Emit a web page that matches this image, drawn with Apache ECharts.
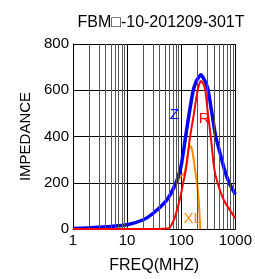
<!DOCTYPE html>
<html><head><meta charset="utf-8">
<script src="https://cdn.jsdelivr.net/npm/echarts@6/dist/echarts.min.js"></script>
<style>html,body{margin:0;padding:0;background:#fff}#c{width:255px;height:279px}</style>
</head><body><div id="c"></div>
<script>
var titleText = "FBM\u25A1-10-201209-301T";
var xTickLabels = [1, 10, 100, 1000];
var minorGrid = [2,3,4,5,6,7,8,9,20,30,40,50,60,70,80,90,200,300,400,500,600,700,800,900];
var zFreq = [1,2,3,5,10,20,30,50,65,80,90,100,114,130,150,167,188,210,232,255,287,315,360,434,500,622,769,1000];
var zVal  = [2,5,8,11,18,40,67,115,155,200,235,275,360,450,540,600,636,656,667,654,630,600,517,400,345,261,200,150];
var rFreq = [1,10,40,55,61,75,90,99,110,123,144,170,201,230,255,279,315,351,408,469,622,1000];
var rVal  = [0,0,0,2,5,45,110,150,205,261,390,492,600,640,628,600,490,400,261,200,122,46];
var xlFreq = [1,2,3,5,10,20,30,50,65,80,90,100,114,123,131,140,148,158,170,183,196,208,216,225];
var xlVal  = [2,5,8,11,18,40,67,112,150,190,215,230,240,275,320,350,358,345,300,245,199,140,80,0];
var labelZ = {name:"Z", at:[75,492]};
var labelR = {name:"R", at:[267,476]};
var labelXL = {name:"XL", at:[163,42]};

function pairs(f,v){return f.map(function(x,i){return [x,v[i]];});}
var FONT = "Liberation Sans, Arial, sans-serif";
function lbl(o,color){
  return {coord:o.at, symbol:'circle', symbolSize:0,
    label:{show:true, position:'inside', formatter:o.name, color:color, fontSize:15, fontFamily:FONT}};
}
var chart = echarts.init(document.getElementById('c'));
chart.setOption({
  animation:false,
  title:{text:titleText, left:156, textAlign:'center', top:10,
    textStyle:{fontSize:16, fontWeight:'normal', color:'#000', fontFamily:FONT}},
  grid:{left:73, right:19, top:44, bottom:43},
  xAxis:{type:'log', logBase:10, min:1, max:1000,
    name:'FREQ(MHZ)', nameLocation:'middle', nameGap:29,
    nameTextStyle:{fontSize:16, color:'#000', fontFamily:FONT},
    axisLine:{show:true, lineStyle:{color:'#000', width:1}},
    axisTick:{show:false},
    axisLabel:{color:'#000', fontSize:15, fontFamily:FONT, margin:4,
      formatter:function(v){return xTickLabels.indexOf(Math.round(v))>=0? String(Math.round(v)):'';}},
    splitLine:{show:true, lineStyle:{color:'#000', width:1}}},
  yAxis:{type:'value', min:0, max:800, interval:200,
    name:'IMPEDANCE', nameLocation:'middle', nameGap:40,
    nameTextStyle:{fontSize:15, color:'#000', fontFamily:FONT},
    axisLine:{show:true, lineStyle:{color:'#000', width:1}},
    axisTick:{show:false},
    axisLabel:{color:'#000', fontSize:15, fontFamily:FONT, margin:4},
    splitLine:{show:true, lineStyle:{color:'#000', width:1}}},
  series:[
    {type:'line', data:[], z:1, silent:true,
      markLine:{silent:true, symbol:['none','none'], label:{show:false},
        lineStyle:{color:'#555', width:1, type:'solid'},
        data:minorGrid.map(function(v){return {xAxis:v};})}},
    {name:'XL', type:'line', data:pairs(xlFreq,xlVal), symbol:'none', smooth:0.2,
      lineStyle:{color:'#ff8c00', width:2}, z:3,
      markPoint:{data:[lbl(labelXL,'#ff8c00')]}},
    {name:'Z', type:'line', data:pairs(zFreq,zVal), symbol:'none', smooth:0.2,
      lineStyle:{color:'#0000ff', width:3.5}, z:4,
      markPoint:{data:[lbl(labelZ,'#0000ff')]}},
    {name:'R', type:'line', data:pairs(rFreq,rVal), symbol:'none', smooth:0.2,
      lineStyle:{color:'#ff0000', width:2}, z:5,
      markPoint:{data:[lbl(labelR,'#ff0000')]}}
  ]
});
</script></body></html>
